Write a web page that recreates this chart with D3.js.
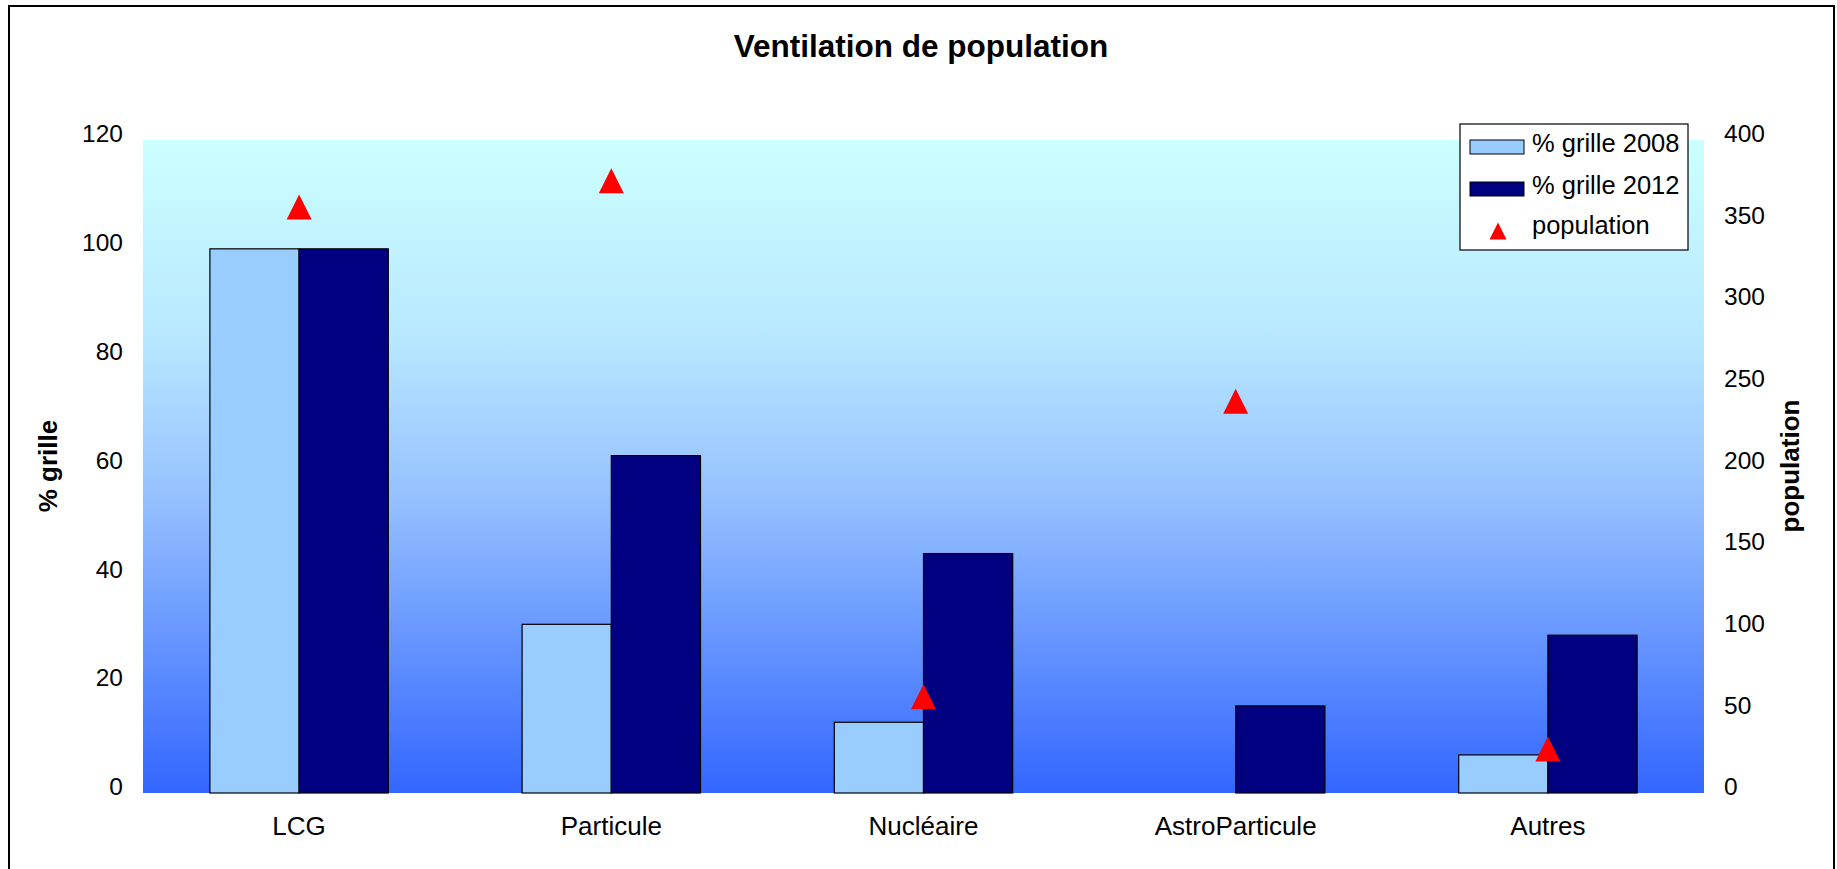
<!DOCTYPE html>
<html>
<head>
<meta charset="utf-8">
<script src="https://cdn.jsdelivr.net/npm/d3@7"></script>
<style>
  html, body { margin: 0; padding: 0; background: #fff; }
  svg text { font-family: "Liberation Sans", Arial, sans-serif; fill: #000; }
</style>
</head>
<body>
<svg id="chart" width="1837" height="869"></svg>
<script>
/*** DATA ***/
const categories = ['LCG', 'Particule', 'Nucléaire', 'AstroParticule', 'Autres'];
const pct2008 = [100, 31, 13, null, 7];
const pct2012 = [100, 62, 44, 16, 29];
const population = [359, 375, 59, 240, 27];
const leftTicks = [0, 20, 40, 60, 80, 100, 120];
const rightTicks = [0, 50, 100, 150, 200, 250, 300, 350, 400];
const seriesNames = ['% grille 2008', '% grille 2012', 'population'];

/*** DIMENSIONS ***/
const plot = {left: 143, top: 140, right: 1704, bottom: 793};
const colors = {'% grille 2008': '#99CCFF', '% grille 2012': '#000080'};

const svg = d3.select('#chart');

// outer frame
svg.append('rect')
    .attr('x', 9).attr('y', 6)
    .attr('width', 1825).attr('height', 880)
    .attr('fill', '#fff').attr('stroke', '#000').attr('stroke-width', 2);

// background gradient of the plot area
const grad = svg.append('defs').append('linearGradient')
    .attr('id', 'bg').attr('x1', 0).attr('y1', 0).attr('x2', 0).attr('y2', 1);
grad.append('stop').attr('offset', '0%').attr('stop-color', '#CCFFFF');
grad.append('stop').attr('offset', '30%').attr('stop-color', '#B8E8FF');
grad.append('stop').attr('offset', '55%').attr('stop-color', '#95C0FF');
grad.append('stop').attr('offset', '100%').attr('stop-color', '#3366FF');

svg.append('rect')
    .attr('x', plot.left).attr('y', plot.top)
    .attr('width', plot.right - plot.left).attr('height', plot.bottom - plot.top)
    .attr('fill', 'url(#bg)');

/*** SCALES ***/
const x0 = d3.scaleBand()
    .domain(categories)
    .range([plot.left, plot.right])
    .paddingInner(1.5 / 3.5)
    .paddingOuter(0.75 / 3.5);

const x1 = d3.scaleBand()
    .domain(seriesNames.slice(0, 2))
    .range([0, x0.bandwidth()]);

const yL = d3.scaleLinear().domain([0, 120]).range([plot.bottom, plot.top]);
const yR = d3.scaleLinear().domain([0, 400]).range([plot.bottom, plot.top]);

/*** AXES ***/
const axisL = svg.append('g')
    .attr('transform', `translate(${plot.left},0)`)
    .call(d3.axisLeft(yL).tickValues(leftTicks).tickSize(0).tickPadding(20));
const axisR = svg.append('g')
    .attr('transform', `translate(${plot.right},0)`)
    .call(d3.axisRight(yR).tickValues(rightTicks).tickSize(0).tickPadding(20));
[axisL, axisR].forEach(a => {
  a.select('.domain').remove();
  a.selectAll('text')
      .attr('font-size', 24.5)
      .attr('font-family', '"Liberation Sans", Arial, sans-serif')
      .attr('fill', '#000')
      .attr('dy', '0.07em');
});

// category labels
svg.append('g').selectAll('text')
    .data(categories)
    .enter().append('text')
      .attr('x', d => x0(d) + x0.bandwidth() / 2)
      .attr('y', 835)
      .attr('text-anchor', 'middle')
      .attr('font-size', 26)
      .text(d => d);

/*** BARS ***/
const barData = categories.map((c, i) => ({
  cat: c,
  values: [
    {key: '% grille 2008', v: pct2008[i]},
    {key: '% grille 2012', v: pct2012[i]}
  ]
}));

svg.append('g').selectAll('g')
    .data(barData)
    .enter().append('g')
      .attr('transform', d => `translate(${x0(d.cat)},0)`)
    .selectAll('rect')
    .data(d => d.values.filter(v => v.v != null && v.v > 0))
    .enter().append('rect')
      .attr('x', d => x1(d.key))
      .attr('y', d => yL(d.v))
      .attr('width', x1.bandwidth())
      .attr('height', d => yL(0) - yL(d.v))
      .attr('fill', d => colors[d.key])
      .attr('stroke', '#000')
      .attr('stroke-width', 1.2);

/*** POPULATION MARKERS ***/
const tri = (cx, cy, s) => `M${cx},${cy - s / 2}L${cx + s / 2},${cy + s / 2}L${cx - s / 2},${cy + s / 2}Z`;

svg.append('g').selectAll('path')
    .data(categories.map((c, i) => ({cat: c, v: population[i]})))
    .enter().append('path')
      .attr('d', d => tri(x0(d.cat) + x0.bandwidth() / 2, yR(d.v), 25))
      .attr('fill', '#FF0000');

/*** TITLES ***/
svg.append('text')
    .attr('x', 921).attr('y', 57)
    .attr('text-anchor', 'middle')
    .attr('font-size', 31.5).attr('font-weight', 'bold')
    .text('Ventilation de population');

svg.append('text')
    .attr('transform', 'translate(57,466) rotate(-90)')
    .attr('text-anchor', 'middle')
    .attr('font-size', 26).attr('font-weight', 'bold')
    .text('% grille');

svg.append('text')
    .attr('transform', 'translate(1799,466) rotate(-90)')
    .attr('text-anchor', 'middle')
    .attr('font-size', 26).attr('font-weight', 'bold')
    .text('population');

/*** LEGEND ***/
const legend = svg.append('g').attr('transform', 'translate(1460,124)');
legend.append('rect')
    .attr('width', 228).attr('height', 126)
    .attr('fill', '#fff').attr('stroke', '#000').attr('stroke-width', 1.2);

const rows = legend.selectAll('g.row')
    .data(seriesNames)
    .enter().append('g')
      .attr('class', 'row')
      .attr('transform', (d, i) => `translate(0,${[23, 65, 105][i]})`);

rows.filter(d => d !== 'population').append('rect')
    .attr('x', 10).attr('y', -7)
    .attr('width', 54).attr('height', 14)
    .attr('fill', d => colors[d])
    .attr('stroke', '#000').attr('stroke-width', 1);

rows.filter(d => d === 'population').append('path')
    .attr('d', tri(38, 2, 17))
    .attr('fill', '#FF0000');

rows.append('text')
    .attr('x', 72).attr('y', 0)
    .attr('dy', '0.2em')
    .attr('font-size', 25.5)
    .text(d => d);
</script>
</body>
</html>
